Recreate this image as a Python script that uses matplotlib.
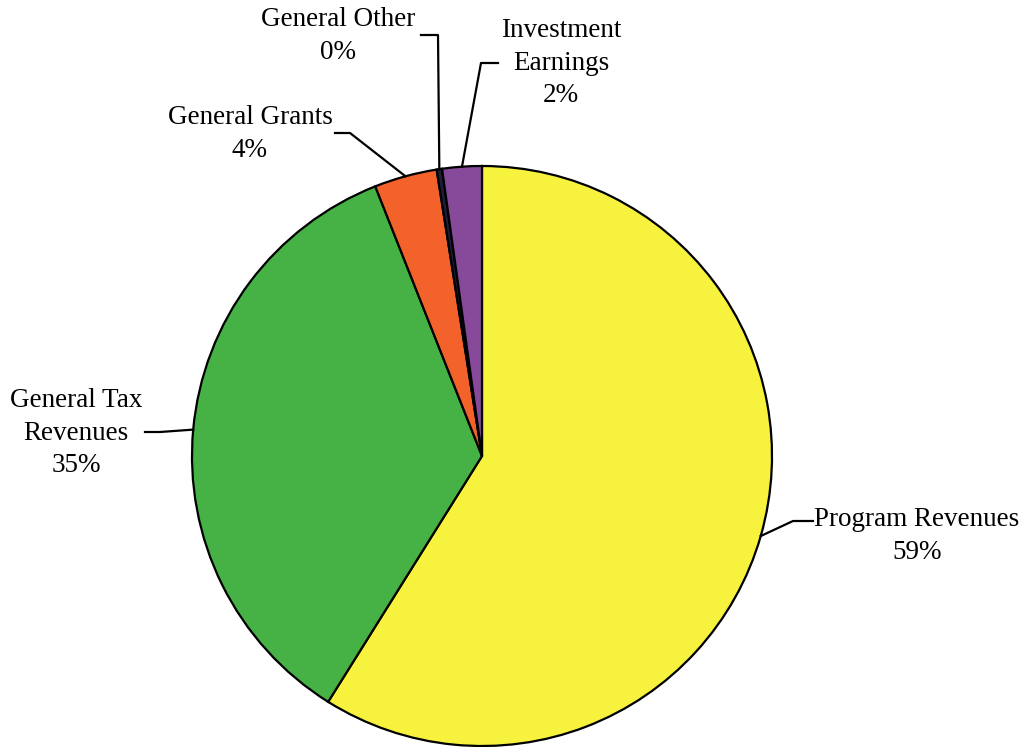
import numpy as np
import matplotlib.pyplot as plt

# revenue shares (percent), clockwise from 12 o'clock
labels = ['Program Revenues', 'General Tax\nRevenues', 'General Grants',
          'General Other', 'Investment\nEarnings']
shares = [58.9, 35.1, 3.5, 0.3, 2.2]
colors = ['#F7F23E', '#46B246', '#F2622A', '#1E1E3C', '#874A9A']

W, H = 1026, 747
plt.rcParams['font.family'] = ['Liberation Serif', 'DejaVu Serif']

fig = plt.figure(figsize=(W / 100.0, H / 100.0), dpi=100)
ax = fig.add_axes([0, 0, 1, 1])

cx, cy, r = 482, H - 456, 290

wedges, _ = ax.pie(shares, colors=colors, startangle=90, counterclock=False,
                   center=(cx, cy), radius=r, frame=True,
                   wedgeprops={'edgecolor': 'black', 'linewidth': 1.6})
ax.set_xlim(0, W)
ax.set_ylim(0, H)
ax.axis('off')

# label centre and leader elbow/end, in pixel coords (y down)
text_pos = [(917, 536), (76, 433), (250, 134), (338, 36), (561, 63)]
elbows = [[(793, 521), (813, 521)],
          [(160, 432), (145, 432)],
          [(350, 133), (335, 133)],
          [(438, 35), (421, 35)],
          [(481, 63), (498, 63)]]

for w, lab, val, tp, el in zip(wedges, labels, shares, text_pos, elbows):
    mid = np.deg2rad(0.5 * (w.theta1 + w.theta2))
    ax0 = cx + r * np.cos(mid)
    ay0 = cy + r * np.sin(mid)
    xs = [ax0] + [p[0] for p in el]
    ys = [ay0] + [H - p[1] for p in el]
    ax.plot(xs, ys, '-', color='black', linewidth=1.6)
    ax.text(tp[0], H - tp[1], '%s\n%d%%' % (lab, round(val)),
            ha='center', va='center', fontsize=19.5, linespacing=1.38)

fig.savefig('out.png', dpi=100)
